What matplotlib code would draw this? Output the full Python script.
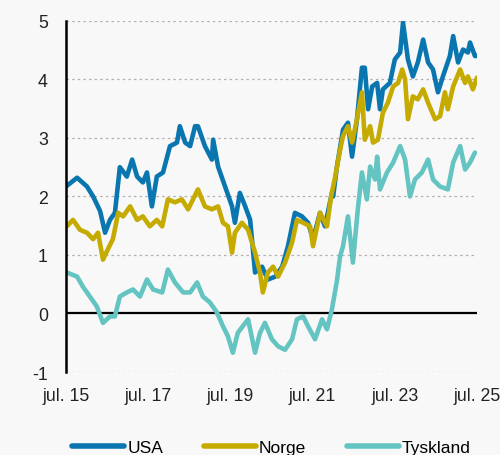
import matplotlib
matplotlib.use("Agg")
import matplotlib.pyplot as plt

# decimal years and values
usa_t = [2015.50, 2015.77, 2016.01, 2016.16, 2016.33, 2016.45, 2016.57, 2016.69, 2016.81, 2016.98,
         2017.11, 2017.23, 2017.37, 2017.47, 2017.59, 2017.71, 2017.86, 2018.03, 2018.20, 2018.27,
         2018.40, 2018.52, 2018.64, 2018.71, 2018.88, 2019.05, 2019.08, 2019.20, 2019.37, 2019.54,
         2019.61, 2019.73, 2019.86, 2019.98, 2020.10, 2020.27, 2020.41, 2020.59, 2020.76, 2020.90,
         2021.07, 2021.24, 2021.39, 2021.51, 2021.68, 2021.80, 2021.97, 2022.00, 2022.09, 2022.24,
         2022.36, 2022.46, 2022.58, 2022.70, 2022.77, 2022.85, 2022.95, 2023.07, 2023.14, 2023.21,
         2023.38, 2023.50, 2023.63, 2023.70, 2023.82, 2023.94, 2024.06, 2024.19, 2024.31, 2024.43,
         2024.55, 2024.67, 2024.84, 2024.92, 2025.04, 2025.16, 2025.28, 2025.33, 2025.45, 2025.50]
usa_v = [2.17, 2.32, 2.17, 2.00, 1.75, 1.38, 1.60, 1.72, 2.50, 2.34,
         2.63, 2.34, 2.24, 2.41, 1.83, 2.34, 2.41, 2.86, 2.92, 3.20,
         2.92, 2.86, 3.20, 3.20, 2.86, 2.63, 2.97, 2.51, 2.17, 1.83,
         1.55, 2.06, 1.83, 1.60, 0.70, 0.80, 0.58, 0.63, 0.80, 1.15,
         1.72, 1.66, 1.55, 1.27, 1.72, 1.49, 2.06, 2.00, 2.50, 3.14,
         3.26, 2.68, 3.32, 4.20, 4.20, 3.49, 3.88, 3.94, 3.49, 3.83,
         3.94, 4.34, 4.46, 4.97, 4.34, 4.05, 4.29, 4.68, 4.29, 4.17,
         3.78, 4.05, 4.40, 4.74, 4.29, 4.51, 4.46, 4.63, 4.40, 4.40]

nor_t = [2015.52, 2015.67, 2015.84, 2016.01, 2016.16, 2016.28, 2016.40, 2016.52, 2016.64, 2016.77,
         2016.89, 2017.06, 2017.23, 2017.37, 2017.54, 2017.71, 2017.84, 2017.98, 2018.15, 2018.32,
         2018.47, 2018.71, 2018.88, 2019.05, 2019.20, 2019.32, 2019.44, 2019.54, 2019.61, 2019.78,
         2019.93, 2020.10, 2020.22, 2020.29, 2020.41, 2020.54, 2020.66, 2020.83, 2021.00, 2021.12,
         2021.27, 2021.44, 2021.51, 2021.68, 2021.85, 2021.95, 2022.05, 2022.17, 2022.24, 2022.36,
         2022.46, 2022.58, 2022.70, 2022.77, 2022.90, 2022.97, 2023.09, 2023.21, 2023.33, 2023.46,
         2023.58, 2023.68, 2023.75, 2023.82, 2023.94, 2024.06, 2024.19, 2024.31, 2024.48, 2024.60,
         2024.72, 2024.79, 2024.92, 2025.09, 2025.21, 2025.28, 2025.40, 2025.50]
nor_v = [1.49, 1.60, 1.43, 1.38, 1.27, 1.38, 0.92, 1.10, 1.27, 1.72,
         1.66, 1.83, 1.60, 1.66, 1.49, 1.60, 1.49, 1.95, 1.90, 1.95,
         1.78, 2.12, 1.83, 1.78, 1.83, 1.55, 1.49, 1.04, 1.38, 1.55,
         1.43, 1.04, 0.70, 0.36, 0.70, 0.80, 0.63, 0.87, 1.21, 1.60,
         1.55, 1.49, 1.15, 1.72, 1.49, 2.00, 2.34, 2.80, 3.03, 3.20,
         2.92, 3.32, 3.78, 2.97, 3.20, 2.92, 2.97, 3.43, 3.60, 3.88,
         3.94, 4.17, 4.00, 3.32, 3.71, 3.66, 3.83, 3.60, 3.32, 3.37,
         3.78, 3.49, 3.88, 4.17, 3.94, 4.05, 3.83, 4.03]

ger_t = [2015.52, 2015.77, 2015.91, 2016.08, 2016.25, 2016.40, 2016.57, 2016.69, 2016.81, 2016.98,
         2017.13, 2017.30, 2017.47, 2017.62, 2017.84, 2017.98, 2018.15, 2018.35, 2018.52, 2018.69,
         2018.83, 2019.00, 2019.17, 2019.32, 2019.44, 2019.56, 2019.68, 2019.93, 2020.10, 2020.22,
         2020.34, 2020.51, 2020.66, 2020.83, 2021.00, 2021.12, 2021.27, 2021.39, 2021.56, 2021.73,
         2021.85, 2021.97, 2022.09, 2022.17, 2022.24, 2022.36, 2022.48, 2022.60, 2022.70, 2022.82,
         2022.90, 2023.02, 2023.07, 2023.14, 2023.31, 2023.46, 2023.63, 2023.75, 2023.87, 2023.99,
         2024.16, 2024.31, 2024.43, 2024.60, 2024.79, 2024.92, 2025.09, 2025.21, 2025.33, 2025.45]
ger_v = [0.70, 0.63, 0.46, 0.29, 0.12, -0.16, -0.05, -0.05, 0.29, 0.36,
         0.41, 0.29, 0.58, 0.41, 0.36, 0.75, 0.53, 0.36, 0.36, 0.53,
         0.29, 0.19, 0.02, -0.22, -0.39, -0.67, -0.33, -0.10, -0.67, -0.33,
         -0.16, -0.44, -0.56, -0.62, -0.44, -0.10, -0.05, -0.22, -0.44, -0.10,
         -0.27, 0.07, 0.55, 0.98, 1.15, 1.66, 0.87, 1.78, 2.41, 1.95,
         2.51, 2.29, 2.68, 2.12, 2.41, 2.58, 2.86, 2.63, 2.00, 2.29,
         2.41, 2.63, 2.29, 2.17, 2.12, 2.58, 2.86, 2.46, 2.58, 2.75]

series = [("USA", usa_t, usa_v, "#0a76b0"),
          ("Norge", nor_t, nor_v, "#c5aa00"),
          ("Tyskland", ger_t, ger_v, "#64c4c2")]

tick_pos = [2015.5, 2017.5, 2019.5, 2021.5, 2023.5, 2025.5]
tick_labels = ["jul. 15", "jul. 17", "jul. 19", "jul. 21", "jul. 23", "jul. 25"]
y_ticks = [-1, 0, 1, 2, 3, 4, 5]

plt.rcParams["font.family"] = ["Liberation Sans", "DejaVu Sans"]
plt.rcParams["axes.unicode_minus"] = False

bg = "#f8f8f8"
fig = plt.figure(figsize=(5.0, 4.56), dpi=100, facecolor=bg)
ax = fig.add_axes([0.132, 0.182, 0.822, 0.770], facecolor=bg)

for name, t, v, c in series:
    ax.plot(t, v, color=c, lw=3.3, label=name, solid_joinstyle="round", solid_capstyle="round")

ax.set_xlim(2015.5, 2025.5)
ax.set_ylim(-1, 5)
ax.set_yticks(y_ticks)
ax.set_xticks(tick_pos)
ax.set_xticklabels(tick_labels)
for y in y_ticks:
    if y != 0:
        ax.axhline(y, color="#b9aeae", lw=0.9, ls=(0, (2, 2.5)), zorder=0)
ax.axhline(0, color="black", lw=1.6, zorder=1)
for s in ["top", "right", "bottom"]:
    ax.spines[s].set_visible(False)
ax.spines["left"].set_linewidth(1.8)
ax.tick_params(axis="both", length=0, labelsize=12.8, colors="#222222")
ax.tick_params(axis="y", pad=13)
ax.tick_params(axis="x", pad=11)

leg = ax.legend(loc="upper center", bbox_to_anchor=(0.5, -0.149), ncol=3, frameon=False,
                fontsize=12.5, handlelength=3.0, handletextpad=0.17, columnspacing=2.35)
for h in leg.get_lines():
    h.set_linewidth(4)

fig.savefig("out.png", dpi=100, facecolor=bg)
